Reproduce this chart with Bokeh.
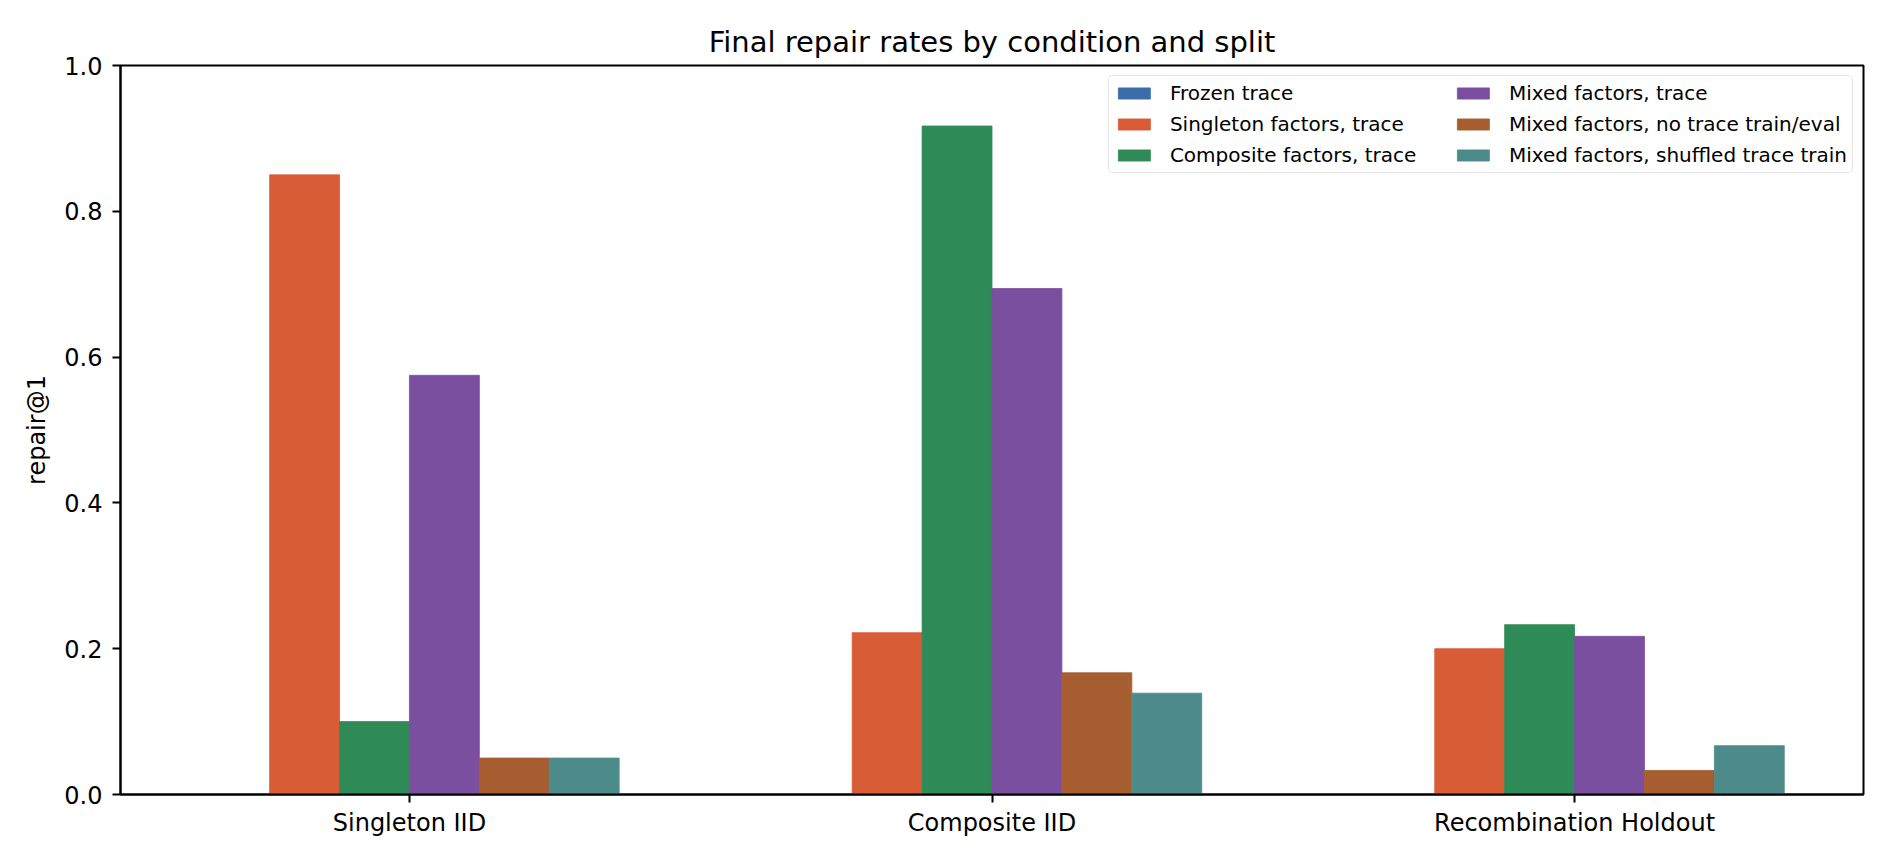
from bokeh.plotting import figure
from bokeh.models import (ColumnDataSource, Range1d, FixedTicker, PrintfTickFormatter,
                          Legend, LegendItem)
from bokeh.embed import file_html
from bokeh.resources import INLINE

# ---- data ----
splits = ["Singleton IID", "Composite IID", "Recombination Holdout"]
conditions = [
    "Frozen trace",
    "Singleton factors, trace",
    "Composite factors, trace",
    "Mixed factors, trace",
    "Mixed factors, no trace train/eval",
    "Mixed factors, shuffled trace train",
]
frozen_trace = [0.0, 0.0, 0.0]
singleton_trace = [0.85, 0.222, 0.200]
composite_trace = [0.10, 0.917, 0.233]
mixed_trace = [0.575, 0.694, 0.217]
mixed_no_trace = [0.05, 0.167, 0.033]
mixed_shuffled = [0.05, 0.139, 0.067]
series = [frozen_trace, singleton_trace, composite_trace,
          mixed_trace, mixed_no_trace, mixed_shuffled]
colors = ["#3b6ea8", "#d85c36", "#2e8b57", "#7b4fa0", "#a65d2f", "#4d8b8a"]
y_ticks = [0.0, 0.2, 0.4, 0.6, 0.8, 1.0]

FONT = "DejaVu Sans"
bar_w = 0.12
n = len(series)

p = figure(width=1874, height=848, output_backend="svg", toolbar_location=None,
           x_range=Range1d(-0.496, 2.496), y_range=Range1d(0, 1.0),
           min_border_left=120, min_border_right=11, min_border_top=65,
           min_border_bottom=54)

renderers = []
for j, (vals, col) in enumerate(zip(series, colors)):
    xs = [i + (j - (n - 1) / 2) * bar_w for i in range(len(splits))]
    src = ColumnDataSource(dict(x=xs, top=vals))
    r = p.vbar(x="x", top="top", bottom=0, width=bar_w, source=src,
               fill_color=col, line_color=col, line_width=0.8)
    renderers.append(r)

# title
p.title.text = "Final repair rates by condition and split"
p.title.align = "center"
p.title.text_font = FONT
p.title.text_font_size = "29px"
p.title.text_font_style = "normal"
p.title.text_color = "black"
p.title.standoff = 14

# axes
p.xgrid.visible = False
p.ygrid.visible = False
p.outline_line_color = "black"
p.outline_line_width = 2
p.outline_line_alpha = 1.0

p.xaxis.ticker = FixedTicker(ticks=list(range(len(splits))))
p.xaxis.major_label_overrides = {i: s for i, s in enumerate(splits)}
p.yaxis.ticker = FixedTicker(ticks=y_ticks)
p.yaxis.formatter = PrintfTickFormatter(format="%.1f")
p.yaxis.axis_label = "repair@1"

for ax in (p.xaxis, p.yaxis):
    ax.axis_line_width = 2
    ax.axis_line_color = "black"
    ax.major_tick_line_width = 2
    ax.major_tick_line_color = "black"
    ax.major_tick_out = 8
    ax.major_tick_in = 0
    ax.minor_tick_out = 0
    ax.minor_tick_in = 0
    ax.major_label_text_font = FONT
    ax.major_label_text_font_size = "24px"
    ax.major_label_text_color = "black"
    ax.axis_label_text_font = FONT
    ax.axis_label_text_font_size = "24px"
    ax.axis_label_text_font_style = "normal"
    ax.axis_label_text_color = "black"
p.yaxis.major_label_standoff = 10
p.xaxis.major_label_standoff = 6
p.yaxis.axis_label_standoff = 10

items = [LegendItem(label=c, renderers=[r]) for c, r in zip(conditions, renderers)]
legend = Legend(items=items, location="top_right", orientation="vertical", nrows=3)
legend.label_text_font = FONT
legend.label_text_font_size = "20px"
legend.label_text_color = "black"
legend.glyph_width = 40
legend.glyph_height = 14
legend.label_height = 23
legend.label_width = 276
legend.label_standoff = 16
legend.spacing = 7
legend.padding = 5
legend.margin = 10
legend.border_line_color = "#cccccc"
legend.border_line_width = 1.5
legend.background_fill_alpha = 0.8
try:
    legend.border_radius = 5
except Exception:
    pass
p.add_layout(legend)

open("out.html", "w").write(file_html(p, INLINE))
